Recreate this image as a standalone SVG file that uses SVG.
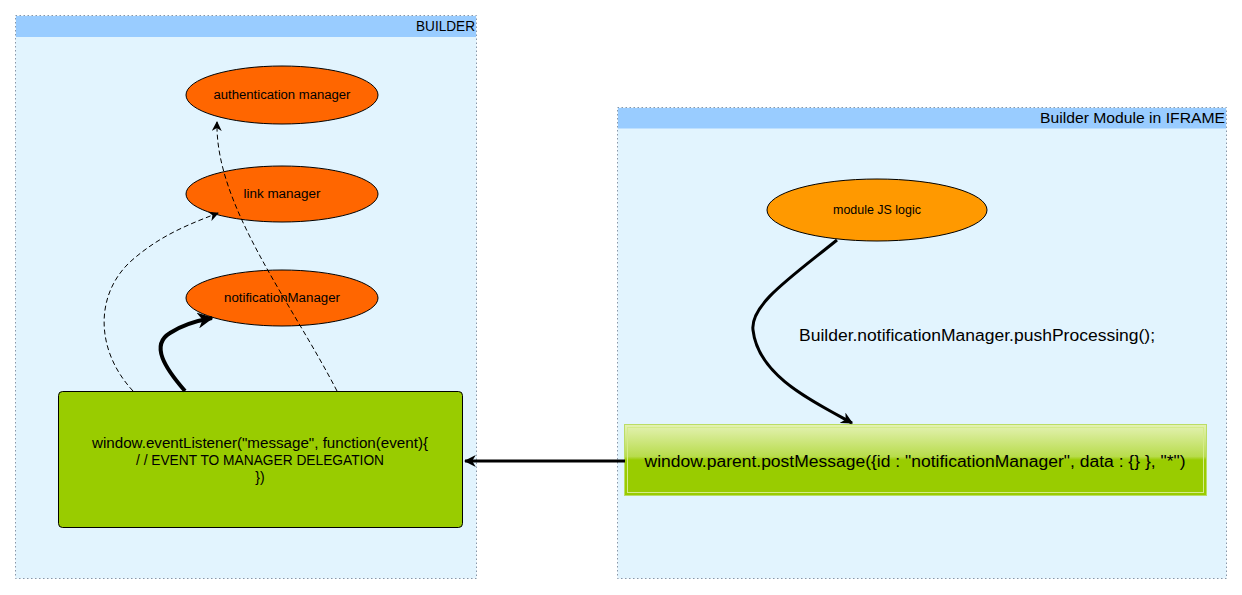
<svg xmlns="http://www.w3.org/2000/svg" width="1242" height="595" viewBox="0 0 1242 595">
<style>
.cont{fill:#E2F4FE;stroke:#8896A8;stroke-width:1;stroke-dasharray:1.5,2.5}
.hdr{fill:#99CCFF}
.htxt{font-family:"Liberation Sans",Arial,sans-serif;font-size:14px;fill:#000;text-anchor:end}
.ell{fill:#FF6600;stroke:#000;stroke-width:1}
.etxt{font-family:"Liberation Sans",Arial,sans-serif;font-size:12.5px;fill:#000;text-anchor:middle}
.btxt{font-family:"Liberation Sans",Arial,sans-serif;font-size:14px;fill:#000;text-anchor:middle}
.conn{fill:none;stroke:#000}
</style>
<defs>
<marker id="ah" viewBox="0 0 10 10" refX="9" refY="5" markerWidth="4" markerHeight="4" orient="auto" markerUnits="strokeWidth">
<path d="M0,0 L10,5 L0,10 L3,5 z" fill="#000"/>
</marker>
<marker id="ahs" viewBox="0 0 10 10" refX="9" refY="5" markerWidth="10" markerHeight="10" orient="auto" markerUnits="userSpaceOnUse">
<path d="M0,0 L10,5 L0,10 L3,5 z" fill="#000"/>
</marker>
<linearGradient id="gg" x1="0" y1="0" x2="0" y2="1">
<stop offset="0" stop-color="#E4F2B4"/>
<stop offset="0.45" stop-color="#B8DC4C"/>
<stop offset="0.5" stop-color="#99CC00"/>
<stop offset="1" stop-color="#99CC00"/>
</linearGradient>
</defs>

<g id="builder">
<rect class="cont" x="15.5" y="15.5" width="461" height="563"/>
<rect class="hdr" x="16" y="16" width="460" height="21"/>
<text class="htxt" x="475" y="31" textLength="59" lengthAdjust="spacingAndGlyphs">BUILDER</text>
</g>

<g id="iframe">
<rect class="cont" x="617.5" y="107.5" width="609" height="471"/>
<rect class="hdr" x="618" y="108" width="608" height="20.5"/>
<text class="htxt" x="1225" y="123" textLength="185" lengthAdjust="spacingAndGlyphs">Builder Module in IFRAME</text>
</g>

<g id="auth">
<ellipse class="ell" cx="282" cy="95" rx="96" ry="29"/>
<text class="etxt" x="282" y="99" textLength="137" lengthAdjust="spacingAndGlyphs">authentication manager</text>
</g>

<g id="link">
<ellipse class="ell" cx="282" cy="194" rx="96" ry="28"/>
<text class="etxt" x="282" y="198" textLength="77" lengthAdjust="spacingAndGlyphs">link manager</text>
</g>

<g id="notif">
<ellipse class="ell" cx="282" cy="298" rx="96" ry="28"/>
<text class="etxt" x="282" y="302" textLength="116" lengthAdjust="spacingAndGlyphs">notificationManager</text>
</g>

<g id="listener">
<rect x="58.5" y="391.5" width="404" height="136" rx="4" fill="#99CC00" stroke="#000" stroke-width="1"/>
<text class="btxt" x="260" y="448" textLength="336" lengthAdjust="spacingAndGlyphs">window.eventListener("message", function(event){</text>
<text class="btxt" x="260" y="465" textLength="248" lengthAdjust="spacingAndGlyphs">/ / EVENT TO MANAGER DELEGATION</text>
<text class="btxt" x="260" y="482">})</text>
</g>

<g id="modulejs">
<ellipse cx="877" cy="210" rx="110" ry="31" fill="#FF9900" stroke="#000" stroke-width="1"/>
<text class="etxt" x="877" y="214" textLength="88" lengthAdjust="spacingAndGlyphs">module JS logic</text>
</g>

<g id="postmsg">
<rect x="624.5" y="424.5" width="582" height="71" fill="url(#gg)" stroke="#BBDD66" stroke-width="1"/>
<rect x="627.5" y="427.5" width="576" height="65" fill="none" stroke="#D4EC8A" stroke-width="1"/>
<text x="915" y="467" font-family="'Liberation Sans',Arial,sans-serif" font-size="16px" text-anchor="middle" fill="#000" textLength="541" lengthAdjust="spacingAndGlyphs">window.parent.postMessage({id : "notificationManager", data : {} }, "*")</text>
</g>

<g id="label">
<text x="977" y="341" font-family="'Liberation Sans',Arial,sans-serif" font-size="16px" text-anchor="middle" fill="#000" textLength="356" lengthAdjust="spacingAndGlyphs">Builder.notificationManager.pushProcessing();</text>
</g>

<g id="connectors">
<path class="conn" d="M185,391 C165,368 150,345 170,333 C182,325 195,321 212,318" stroke-width="4" marker-end="url(#ah)"/>
<path class="conn" d="M133,391 C95,350 95,295 130,262 C160,235 190,224 218,213" stroke-width="1" stroke-dasharray="5,3" marker-end="url(#ahs)"/>
<path class="conn" d="M337,391 C290,300 215,205 217,122" stroke-width="1" stroke-dasharray="5,3" marker-end="url(#ahs)"/>
<path class="conn" d="M625,461 L465,461" stroke-width="3" marker-end="url(#ah)"/>
<path class="conn" d="M837,240 C790,278 750,305 753,330 C758,375 810,400 852,423" stroke-width="3" marker-end="url(#ah)"/>
</g>
</svg>
